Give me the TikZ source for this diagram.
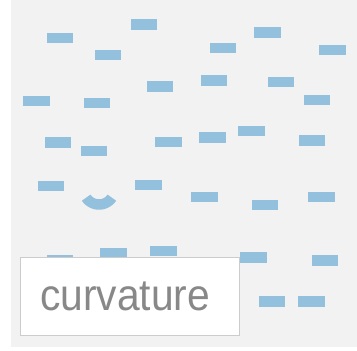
\documentclass[tikz,border=0pt]{standalone}
\usepackage{fontspec}
\newfontfamily\labfont{Liberation Sans}
\definecolor{bggray}{HTML}{F2F2F2}
\definecolor{dashblue}{HTML}{93C0DD}
\definecolor{boxline}{HTML}{CCCCCC}
\definecolor{txtgray}{HTML}{888888}
\tikzset{
  dashbar/.style={rectangle, fill=dashblue, draw=none, inner sep=0pt,
    minimum width=26.5pt, minimum height=10.5pt},
  labelbox/.style={rectangle, fill=white, draw=boxline, line width=1.3pt}
}
\begin{document}
\begin{tikzpicture}[x=1pt,y=-1pt]
\useasboundingbox (0,0) rectangle (357,351);
\fill[white] (0,0) rectangle (357,351);
\fill[bggray] (11,0) rectangle (357,346.5);
% dashes
\node[dashbar] (d1) at (60,38) {};
\node[dashbar] (d2) at (108,55) {};
\node[dashbar] (d3) at (144,24.7) {};
\node[dashbar] (d4) at (36.7,101) {};
\node[dashbar] (d5) at (97,103) {};
\node[dashbar] (d6) at (160,86.7) {};
\node[dashbar] (d7) at (58,142.7) {};
\node[dashbar] (d8) at (94,151) {};
\node[dashbar] (d9) at (168.3,142.2) {};
\node[dashbar] (d10) at (267.3,32.5) {};
\node[dashbar] (d11) at (223,47.8) {};
\node[dashbar] (d12) at (332.7,49.8) {};
\node[dashbar] (d13) at (214,80.7) {};
\node[dashbar] (d14) at (281,82.2) {};
\node[dashbar] (d15) at (317,100) {};
\node[dashbar] (d16) at (212.3,137.3) {};
\node[dashbar] (d17) at (251.7,131) {};
\node[dashbar] (d18) at (312,140.5) {};
\node[dashbar] (d19) at (51.2,186.2) {};
\node[dashbar] (d20) at (148.7,185.2) {};
\node[dashbar] (d21) at (60,260.5) {};
\node[dashbar] (d22) at (113.3,253) {};
\node[dashbar] (d23) at (163.7,251) {};
\node[dashbar] (d24) at (204.5,197.2) {};
\node[dashbar] (d25) at (265,205) {};
\node[dashbar] (d26) at (321.3,197.2) {};
\node[dashbar] (d27) at (253.5,257.7) {};
\node[dashbar] (d28) at (325,260.7) {};
\node[dashbar] (d29) at (271.8,301.5) {};
\node[dashbar] (d30) at (311.3,301.3) {};
% curved dash
\draw[dashblue, line width=10.5pt, line cap=butt]
  plot[domain=34:146, samples=40] ({99+15.5*cos(\x)}, {189+15.5*sin(\x)});
% label box
\draw[labelbox] (20.7,257.7) rectangle (239.5,335.7);
\node[anchor=base west, inner sep=0pt, text=txtgray, font=\labfont\fontsize{44.3}{50}\selectfont]
  (lbl) at (40,310) {\scalebox{0.92}[1]{curvature}};
\end{tikzpicture}
\end{document}
